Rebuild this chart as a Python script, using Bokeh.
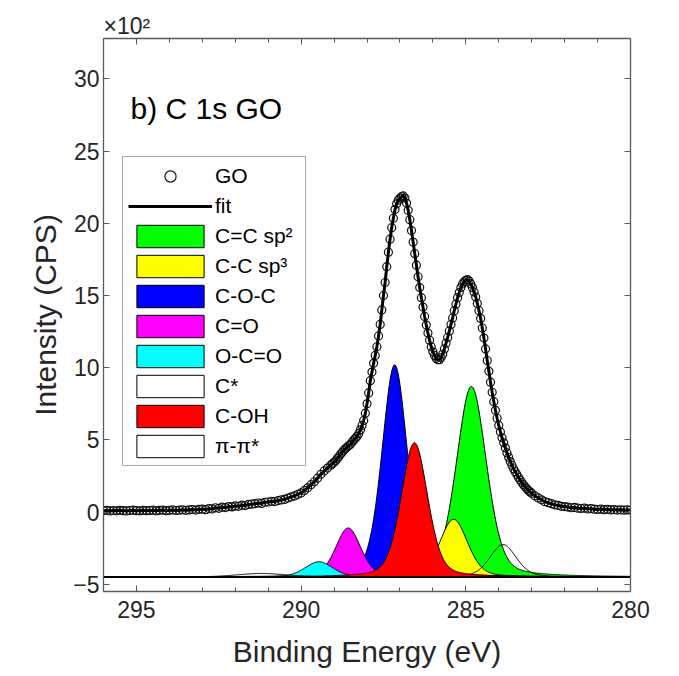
import numpy as np
from bokeh.plotting import figure
from bokeh.models import (Range1d, LinearAxis, Legend, LegendItem, Label,
                          SingleIntervalTicker, CustomJSTickFormatter)
from bokeh.embed import file_html
from bokeh.resources import INLINE

# ---------------- data ----------------
# GO spectrum, intensity in units of 10^2 CPS
# 296.0 ... 289.1 eV, step 0.1
go_hi = [0.10, 0.12, 0.08, 0.11, 0.09, 0.12, 0.10, 0.08, 0.11, 0.13,
         0.10, 0.09, 0.12, 0.10, 0.11, 0.13, 0.09, 0.12, 0.14, 0.10,
         0.12, 0.15, 0.11, 0.13, 0.16, 0.12, 0.15, 0.18, 0.14, 0.19,
         0.20, 0.17, 0.24, 0.22, 0.30, 0.26, 0.34, 0.31, 0.38, 0.36,
         0.43, 0.40, 0.48, 0.45, 0.53, 0.55, 0.58, 0.63, 0.60, 0.68,
         0.70, 0.75, 0.73, 0.80, 0.84, 0.88, 0.97, 1.05, 1.12, 1.22,
         1.33, 1.50, 1.68, 1.90, 2.10, 2.35, 2.62, 2.85, 3.05, 3.25]
# 289.05 ... 283.00 eV, step 0.05
go_mid = [3.35, 3.45, 3.55, 3.72, 3.85, 4.02, 4.15, 4.28, 4.40, 4.50,
          4.62, 4.70, 4.85, 5.00, 5.12, 5.25, 5.45, 5.70, 6.00, 6.35,
          6.85, 7.50, 8.25, 9.10, 9.70, 10.30, 10.85, 11.45, 12.20, 13.00,
          14.00, 15.00, 15.90, 17.00, 18.00, 18.90, 19.70, 20.35, 20.95, 21.35,
          21.60, 21.75, 21.85, 21.90, 21.75, 21.40, 20.90, 20.25, 19.50, 18.70,
          17.90, 17.10, 16.30, 15.55, 14.85, 14.20, 13.55, 12.95, 12.40, 11.90,
          11.45, 11.10, 10.85, 10.65, 10.55, 10.55, 10.70, 10.95, 11.30, 11.70,
          12.10, 12.55, 13.00, 13.45, 13.95, 14.40, 14.85, 15.20, 15.55, 15.80,
          15.95, 16.05, 16.10, 16.00, 15.80, 15.55, 15.25, 14.90, 14.45, 13.95,
          13.40, 12.75, 12.05, 11.30, 10.50, 9.75, 9.00, 8.30, 7.65, 7.05,
          6.50, 6.00, 5.55, 5.15, 4.80, 4.45, 4.10, 3.80, 3.50, 3.25,
          3.00, 2.80, 2.60, 2.40, 2.22, 2.05, 1.90, 1.75, 1.62, 1.50,
          1.40, 1.30]
# 282.9 ... 280.0 eV, step 0.1
go_lo = [1.12, 0.98, 0.85, 0.72, 0.65, 0.58, 0.50, 0.47, 0.40, 0.38,
         0.35, 0.30, 0.32, 0.27, 0.25, 0.28, 0.22, 0.24, 0.20, 0.18,
         0.21, 0.17, 0.19, 0.15, 0.17, 0.14, 0.16, 0.13, 0.15, 0.14]

# fitted components: centre (eV), height above offset baseline, FWHM (eV)
component_names = ["C=C sp²", "C-C sp³", "C-O-C", "C=O", "O-C=O", "C*", "C-OH", "π-π*"]
component_centers = [284.83, 285.37, 287.16, 288.57, 289.46, 283.87, 286.56, 291.2]
component_heights = [13.2, 4.0, 14.7, 3.4, 1.06, 2.25, 9.3, 0.25]
component_fwhm = [1.08, 1.0, 0.9, 0.9, 1.0, 0.95, 0.95, 1.8]
component_colors = ["#00ff00", "#ffff00", "#0000ff", "#ff00ff", "#00ffff", None, "#ff0000", None]
component_offset = -4.5
gl_mix = 0.3

x_ticks_interval = 5
y_ticks_interval = 5

# ---------------- build ----------------
be = np.concatenate([
    np.round(296.0 - 0.1 * np.arange(len(go_hi)), 2),
    np.round(289.05 - 0.05 * np.arange(len(go_mid)), 2),
    np.round(282.9 - 0.1 * np.arange(len(go_lo)), 2),
])
intensity = np.array(go_hi + go_mid + go_lo)

FONT = "Liberation Sans"
TXT = "#262626"
AX = "#5a5a5a"

p = figure(width=679, height=676,
           x_range=Range1d(296, 280), y_range=Range1d(-5.5, 32.8),
           output_backend="svg", toolbar_location=None,
           min_border_left=103, min_border_right=49,
           min_border_top=38, min_border_bottom=85)
p.xgrid.grid_line_color = None
p.ygrid.grid_line_color = None
p.outline_line_color = None
p.background_fill_color = "white"
p.border_fill_color = "white"

p.title.text = "×10²"
p.title.text_font = FONT
p.title.text_font_size = "23px"
p.title.text_font_style = "normal"
p.title.text_color = TXT
p.title.align = "left"
p.title.standoff = 0
p.title.offset = 0

grid = np.linspace(296, 280, 801)
comp_renderers = []
for name, c, h, w, col in zip(component_names, component_centers, component_heights,
                              component_fwhm, component_colors):
    u = (grid - c) / w
    shape = gl_mix / (1 + 4 * u ** 2) + (1 - gl_mix) * np.exp(-4 * np.log(2) * u ** 2)
    top = component_offset + h * shape
    xs = np.concatenate([grid, grid[::-1]])
    ys = np.concatenate([top, np.full_like(grid, component_offset)])
    if col is None:
        r = p.patch(xs, ys, fill_color="white", fill_alpha=0.0,
                    line_color="black", line_width=1)
    else:
        r = p.patch(xs, ys, fill_color=col, fill_alpha=1.0,
                    line_color="black", line_width=1)
    comp_renderers.append((name, r))

circ = p.scatter(be, intensity, marker="circle", size=8, fill_color=None,
                 line_color="#111111", line_width=1.2)
fit = p.line(be, intensity, line_color="black", line_width=3)

# axes
bottom_ax = p.below[0]
left_ax = p.left[0]
bottom_ax.ticker = SingleIntervalTicker(interval=x_ticks_interval, num_minor_ticks=5)
left_ax.ticker = SingleIntervalTicker(interval=y_ticks_interval, num_minor_ticks=0)
bottom_ax.axis_label = "Binding Energy (eV)"
left_ax.axis_label = "Intensity (CPS)"

blank = CustomJSTickFormatter(code="return '';")
top_ax = LinearAxis(ticker=SingleIntervalTicker(interval=x_ticks_interval, num_minor_ticks=5),
                    formatter=blank)
right_ax = LinearAxis(ticker=SingleIntervalTicker(interval=y_ticks_interval, num_minor_ticks=0),
                      formatter=blank)
p.add_layout(top_ax, "above")
p.add_layout(right_ax, "right")

for ax in [bottom_ax, left_ax, top_ax, right_ax]:
    ax.axis_line_color = AX
    ax.axis_line_width = 1.3
    ax.major_tick_line_color = AX
    ax.minor_tick_line_color = AX
    ax.major_tick_in = 6
    ax.major_tick_out = 0
    ax.minor_tick_in = 4
    ax.minor_tick_out = 0
    ax.major_label_text_font = FONT
    ax.major_label_text_font_size = "23px"
    ax.major_label_text_color = TXT
    ax.axis_label_text_font = FONT
    ax.axis_label_text_font_size = "30px"
    ax.axis_label_text_font_style = "normal"
    ax.axis_label_text_color = TXT

for ax in [top_ax, right_ax]:
    ax.major_label_standoff = 0

bottom_ax.major_label_standoff = 9
bottom_ax.axis_label_standoff = 14
left_ax.major_label_standoff = 4
left_ax.axis_label_standoff = 8

# panel label
p.add_layout(Label(x=295.18, y=27.95, text="b) C 1s GO", text_font=FONT,
                   text_font_size="30px", text_color="black",
                   text_baseline="alphabetic", text_align="left"))

# legend
items = [LegendItem(label="GO", renderers=[circ]),
         LegendItem(label="fit", renderers=[fit])]
for name, r in comp_renderers:
    items.append(LegendItem(label=name, renderers=[r]))
leg = Legend(items=items, location=(19, 125), margin=0, padding=5, spacing=2,
             glyph_width=84, glyph_height=28, label_height=28, label_standoff=3,
             label_width=85,
             label_text_font=FONT, label_text_font_size="21px", label_text_color="black",
             border_line_color="#555555", border_line_width=1,
             background_fill_color="white", background_fill_alpha=1.0)
p.add_layout(leg)

open("out.html", "w").write(file_html(p, INLINE))
